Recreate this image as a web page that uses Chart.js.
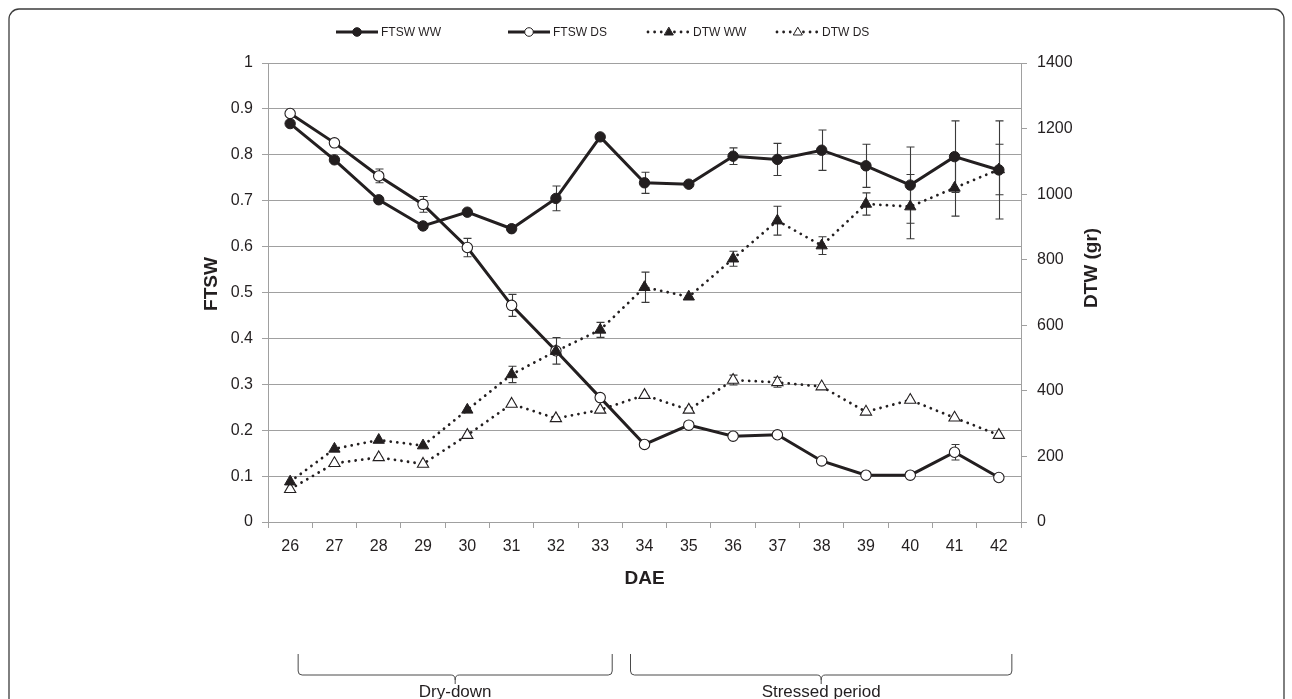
<!DOCTYPE html>
<html><head><meta charset="utf-8">
<script src="https://cdn.jsdelivr.net/npm/chart.js@4.4.0/dist/chart.umd.min.js"></script>
<style>html,body{margin:0;padding:0;background:#fff;}canvas{display:block;}</style>
</head><body>
<canvas id="c" width="1292" height="699"></canvas>
<script>
// ---------- data ----------
const CATEGORIES = ['26','27','28','29','30','31','32','33','34','35','36','37','38','39','40','41','42'];
const FTSW_WW     = [0.868,0.789,0.702,0.645,0.675,0.639,0.705,0.839,0.739,0.736,0.797,0.790,0.810,0.776,0.734,0.796,0.767];
const FTSW_WW_ERR = [0,0,0,0,0,0,0.027,0,0.023,0,0.018,0.035,0.044,0.047,0.083,0.078,0.107];
const FTSW_DS     = [0.890,0.826,0.754,0.692,0.598,0.472,0.373,0.271,0.169,0.211,0.187,0.190,0.133,0.102,0.102,0.152,0.097];
const FTSW_DS_ERR = [0,0.006,0.015,0.017,0.020,0.024,0.029,0,0,0,0,0,0,0,0,0.017,0];
const DTW_WW      = [123,223,250,233,342,450,521,586,716,687,803,919,843,970,962,1019,1075];
const DTW_WW_ERR  = [0,0,0,0,0,25,0,23,46,0,23,44,27,34,98,86,77];
const DTW_DS      = [100,179,197,177,265,360,316,342,387,342,433,426,413,336,372,318,265];
const DTW_DS_ERR  = [0,0,0,0,0,0,0,0,0,0,15,15,0,0,0,0,0];
const FTSW_TICKS  = ['0','0.1','0.2','0.3','0.4','0.5','0.6','0.7','0.8','0.9','1'];
const DTW_TICKS   = ['0','200','400','600','800','1000','1200','1400'];
const AXIS_TITLES = {x: 'DAE', y: 'FTSW', y2: 'DTW (gr)'};
const PERIODS     = [{label:'Dry-down', from:'26', to:'33'}, {label:'Stressed period', from:'34', to:'42'}];

// ---------- style ----------
const INK = '#231f20';
const GRID = '#a0a0a0';
const FONT = "'Liberation Sans', Arial, Helvetica, sans-serif";

const errorBars = {
  id: 'errorBars',
  beforeDatasetsDraw(chart) {
    const ctx = chart.ctx;
    ctx.save();
    ctx.strokeStyle = '#3a3a3a';
    ctx.lineWidth = 1.1;
    chart.data.datasets.forEach((ds, di) => {
      if (!ds.errors) return;
      const meta = chart.getDatasetMeta(di);
      const sc = chart.scales[ds.yAxisID];
      meta.data.forEach((pt, i) => {
        const e = ds.errors[i];
        if (!e) return;
        const v = ds.data[i];
        const yT = sc.getPixelForValue(v + e), yB = sc.getPixelForValue(v - e);
        const x = Math.round(pt.x) + 0.5;
        ctx.beginPath();
        ctx.moveTo(x, yT); ctx.lineTo(x, yB);
        ctx.moveTo(x - 4, yT); ctx.lineTo(x + 4, yT);
        ctx.moveTo(x - 4, yB); ctx.lineTo(x + 4, yB);
        ctx.stroke();
      });
    });
    ctx.restore();
  }
};

function vTitle(ctx, text, x, y) {
  ctx.save();
  ctx.fillStyle = INK;
  ctx.font = "bold 19px " + FONT;
  ctx.textAlign = 'center';
  ctx.textBaseline = 'middle';
  ctx.translate(x, y);
  ctx.rotate(-Math.PI / 2);
  ctx.fillText(text, 0, 0);
  ctx.restore();
}

const decor = {
  id: 'decor',
  beforeDraw(chart) {
    const ctx = chart.ctx;
    ctx.save();
    ctx.fillStyle = '#fff';
    ctx.fillRect(0, 0, chart.width, chart.height);
    ctx.strokeStyle = '#3c3c3c';
    ctx.lineWidth = 1.3;
    ctx.beginPath();
    ctx.roundRect(9, 9, 1275, 760, 10);
    ctx.stroke();
    ctx.restore();
  },
  afterDraw(chart) {
    const ctx = chart.ctx;
    const xs = chart.scales.x;
    // vertical axis titles (both read bottom-to-top)
    vTitle(ctx, AXIS_TITLES.y, 212, 284);
    vTitle(ctx, AXIS_TITLES.y2, 1092, 268);

    // legend
    ctx.save();
    const legendX = [336, 508, 648, 777];
    const ly = 32;
    chart.data.datasets.forEach((ds, i) => {
      const x0 = legendX[i];
      ctx.strokeStyle = ds.borderColor;
      ctx.lineWidth = ds.borderWidth;
      ctx.lineCap = ds.borderDash ? 'round' : 'butt';
      ctx.setLineDash(ds.borderDash || []);
      ctx.beginPath();
      ctx.moveTo(x0, ly); ctx.lineTo(x0 + 42, ly);
      ctx.stroke();
      ctx.setLineDash([]);
      ctx.fillStyle = ds.pointBackgroundColor;
      ctx.strokeStyle = ds.pointBorderColor;
      ctx.lineWidth = 1;
      Chart.helpers.drawPoint(ctx, {pointStyle: ds.pointStyle, radius: ds.pointStyle === 'triangle' ? 5 : 4.3, borderWidth: 1, rotation: 0}, x0 + 21, ly + (ds.pointStyle === 'triangle' ? 0.5 : 0));
      ctx.fillStyle = INK;
      ctx.font = "12px " + FONT;
      ctx.textAlign = 'left';
      ctx.textBaseline = 'middle';
      ctx.fillText(ds.label, x0 + 45, ly + 1);
    });
    ctx.restore();

    // period braces
    ctx.save();
    ctx.strokeStyle = '#4a4a4a';
    ctx.lineWidth = 1;
    const offs = [[8, 12], [-14, 13]];
    PERIODS.forEach((p, k) => {
      const xL = xs.getPixelForValue(CATEGORIES.indexOf(p.from)) + offs[k][0];
      const xR = xs.getPixelForValue(CATEGORIES.indexOf(p.to)) + offs[k][1];
      const xc = (xL + xR) / 2;
      const y0 = 654, y1 = 675, y2 = 684, r = 4;
      ctx.beginPath();
      ctx.moveTo(xL, y0);
      ctx.lineTo(xL, y1 - r);
      ctx.quadraticCurveTo(xL, y1, xL + r, y1);
      ctx.lineTo(xc - 4, y1);
      ctx.quadraticCurveTo(xc, y1, xc, y1 + 5);
      ctx.lineTo(xc, y2);
      ctx.moveTo(xc, y1 + 5);
      ctx.quadraticCurveTo(xc, y1, xc + 4, y1);
      ctx.lineTo(xR - r, y1);
      ctx.quadraticCurveTo(xR, y1, xR, y1 - r);
      ctx.lineTo(xR, y0);
      ctx.stroke();
      ctx.fillStyle = INK;
      ctx.font = "17px " + FONT;
      ctx.textAlign = 'center';
      ctx.textBaseline = 'middle';
      ctx.fillText(p.label, xc, 692);
    });
    ctx.restore();
  }
};

const chart = new Chart(document.getElementById('c'), {
  type: 'line',
  data: {
    labels: CATEGORIES,
    datasets: [
      {label: 'FTSW WW', data: FTSW_WW, errors: FTSW_WW_ERR, yAxisID: 'y', order: 2,
       borderColor: INK, borderWidth: 3, tension: 0,
       pointStyle: 'circle', pointRadius: 5.2, pointBorderWidth: 1,
       pointBackgroundColor: INK, pointBorderColor: INK},
      {label: 'FTSW DS', data: FTSW_DS, errors: FTSW_DS_ERR, yAxisID: 'y', order: 2,
       borderColor: INK, borderWidth: 3, tension: 0,
       pointStyle: 'circle', pointRadius: 5.2, pointBorderWidth: 1.1,
       pointBackgroundColor: '#ffffff', pointBorderColor: INK},
      {label: 'DTW WW', data: DTW_WW, errors: DTW_WW_ERR, yAxisID: 'y2', order: 1,
       borderColor: INK, borderWidth: 2.8, borderDash: [0.01, 6.6], borderCapStyle: 'round', tension: 0,
       pointStyle: 'triangle', pointRadius: 6.5, pointBorderWidth: 1,
       pointBackgroundColor: INK, pointBorderColor: INK},
      {label: 'DTW DS', data: DTW_DS, errors: DTW_DS_ERR, yAxisID: 'y2', order: 1,
       borderColor: INK, borderWidth: 2.8, borderDash: [0.01, 6.6], borderCapStyle: 'round', tension: 0,
       pointStyle: 'triangle', pointRadius: 6.5, pointBorderWidth: 1.1,
       pointBackgroundColor: '#ffffff', pointBorderColor: INK}
    ]
  },
  options: {
    responsive: false,
    animation: false,
    devicePixelRatio: 1,
    layout: {padding: {left: 200, right: 200, top: 63, bottom: 109}},
    plugins: {legend: {display: false}, tooltip: {enabled: false}},
    scales: {
      x: {
        type: 'category', offset: true,
        grid: {offset: true, drawOnChartArea: false, drawTicks: true, tickLength: 6, color: GRID},
        border: {display: true, color: GRID, width: 1},
        ticks: {color: INK, font: {family: FONT, size: 16}, padding: 9, maxRotation: 0, autoSkip: false},
        title: {display: true, text: AXIS_TITLES.x, color: INK, font: {family: FONT, size: 19, weight: 'bold'}, padding: 0},
        afterFit(s) { s.height = 68; }
      },
      y: {
        position: 'left', min: 0, max: 1,
        ticks: {stepSize: 0.1, color: INK, font: {family: FONT, size: 16}, padding: 9,
                callback: (v, i) => FTSW_TICKS[i]},
        grid: {color: GRID, tickLength: 6, drawTicks: true},
        border: {display: true, color: GRID, width: 1},
        afterFit(s) { s.width = 68; }
      },
      y2: {
        position: 'right', min: 0, max: 1400,
        ticks: {stepSize: 200, color: INK, font: {family: FONT, size: 16}, padding: 10,
                callback: (v, i) => DTW_TICKS[i]},
        grid: {drawOnChartArea: false, drawTicks: true, tickLength: 6, color: GRID},
        border: {display: true, color: GRID, width: 1},
        afterFit(s) { s.width = 71; }
      }
    }
  },
  plugins: [decor, errorBars]
});
</script>
</body></html>
